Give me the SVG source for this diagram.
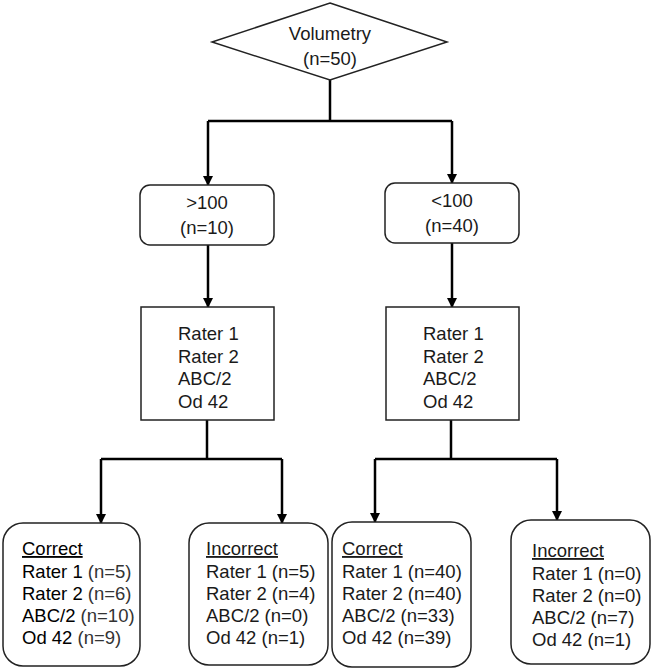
<svg xmlns="http://www.w3.org/2000/svg" width="653" height="670" viewBox="0 0 653 670">
<style>
  .shape { fill: #fff; stroke: #222; stroke-width: 1.5; }
  .conn { fill: none; stroke: #000; stroke-width: 2.5; }
  text { font-family: "Liberation Sans", Arial, sans-serif; font-size: 18.5px; fill: #1a1a1a; }
  .c { text-anchor: middle; }
  .lbl { fill: #000; }
  .n { fill: #333; }
  .u { text-decoration: underline; }
</style>
<defs>
  <marker id="arr" markerWidth="10" markerHeight="10" refX="9" refY="5" orient="auto" markerUnits="userSpaceOnUse">
    <path d="M0,0 L10,5 L0,10 Z" fill="#000"/>
  </marker>
</defs>
<rect width="653" height="670" fill="#fff"/>

<g id="connectors">
  <path class="conn" d="M330,80 V121"/>
  <path class="conn" d="M208,121 H452"/>
  <path class="conn" d="M208,121 V185" marker-end="url(#arr)"/>
  <path class="conn" d="M452,121 V183" marker-end="url(#arr)"/>
  <path class="conn" d="M208,245 V307" marker-end="url(#arr)"/>
  <path class="conn" d="M452,243 V307" marker-end="url(#arr)"/>
  <path class="conn" d="M207,420 V459"/>
  <path class="conn" d="M101,459 H282"/>
  <path class="conn" d="M101,459 V523" marker-end="url(#arr)"/>
  <path class="conn" d="M282,459 V523" marker-end="url(#arr)"/>
  <path class="conn" d="M451,420 V459"/>
  <path class="conn" d="M375,459 H557"/>
  <path class="conn" d="M375,459 V522" marker-end="url(#arr)"/>
  <path class="conn" d="M557,459 V520" marker-end="url(#arr)"/>
</g>

<g id="volumetry">
  <polygon class="shape" points="330,3 447,42 330,80 212,42"/>
  <text class="c" x="330" y="40">Volumetry</text>
  <text class="c" x="330" y="65">(n=50)</text>
</g>

<g id="gt100">
  <rect class="shape" x="140" y="185" width="134" height="60" rx="10"/>
  <text class="c" x="207" y="209">&gt;100</text>
  <text class="c" x="207" y="234">(n=10)</text>
</g>

<g id="lt100">
  <rect class="shape" x="385" y="183" width="134" height="60" rx="10"/>
  <text class="c" x="452" y="207">&lt;100</text>
  <text class="c" x="452" y="232">(n=40)</text>
</g>

<g id="raters-left">
  <rect class="shape" x="141" y="307" width="133" height="113"/>
  <text x="178" y="340">Rater 1</text>
  <text x="178" y="362.5">Rater 2</text>
  <text x="178" y="385">ABC/2</text>
  <text x="178" y="407.5">Od 42</text>
</g>

<g id="raters-right">
  <rect class="shape" x="386" y="307" width="133" height="113"/>
  <text x="423" y="340">Rater 1</text>
  <text x="423" y="362.5">Rater 2</text>
  <text x="423" y="385">ABC/2</text>
  <text x="423" y="407.5">Od 42</text>
</g>

<g id="correct-left">
  <rect class="shape" x="3" y="523" width="137" height="143" rx="20"/>
  <text class="u lbl" x="22" y="555">Correct</text>
  <text x="22" y="578"><tspan class="lbl">Rater 1</tspan> <tspan class="n">(n=5)</tspan></text>
  <text x="22" y="600"><tspan class="lbl">Rater 2</tspan> <tspan class="n">(n=6)</tspan></text>
  <text x="22" y="622"><tspan class="lbl">ABC/2</tspan> <tspan class="n">(n=10)</tspan></text>
  <text x="22" y="643.5"><tspan class="lbl">Od 42</tspan> <tspan class="n">(n=9)</tspan></text>
</g>

<g id="incorrect-left">
  <rect class="shape" x="189" y="523" width="139" height="142" rx="20"/>
  <text class="u" x="206" y="555">Incorrect</text>
  <text x="206" y="578">Rater 1 (n=5)</text>
  <text x="206" y="600">Rater 2 (n=4)</text>
  <text x="206" y="622">ABC/2 (n=0)</text>
  <text x="206" y="643.5">Od 42 (n=1)</text>
</g>

<g id="correct-right">
  <rect class="shape" x="332" y="522" width="139" height="145" rx="20"/>
  <text class="u" x="342" y="555">Correct</text>
  <text x="342" y="578">Rater 1 (n=40)</text>
  <text x="342" y="600">Rater 2 (n=40)</text>
  <text x="342" y="622">ABC/2 (n=33)</text>
  <text x="342" y="643.5">Od 42 (n=39)</text>
</g>

<g id="incorrect-right">
  <rect class="shape" x="511" y="520" width="139" height="144" rx="20"/>
  <text class="u" x="532" y="557">Incorrect</text>
  <text x="532" y="580">Rater 1 (n=0)</text>
  <text x="532" y="602">Rater 2 (n=0)</text>
  <text x="532" y="624">ABC/2 (n=7)</text>
  <text x="532" y="645.5">Od 42 (n=1)</text>
</g>
</svg>
